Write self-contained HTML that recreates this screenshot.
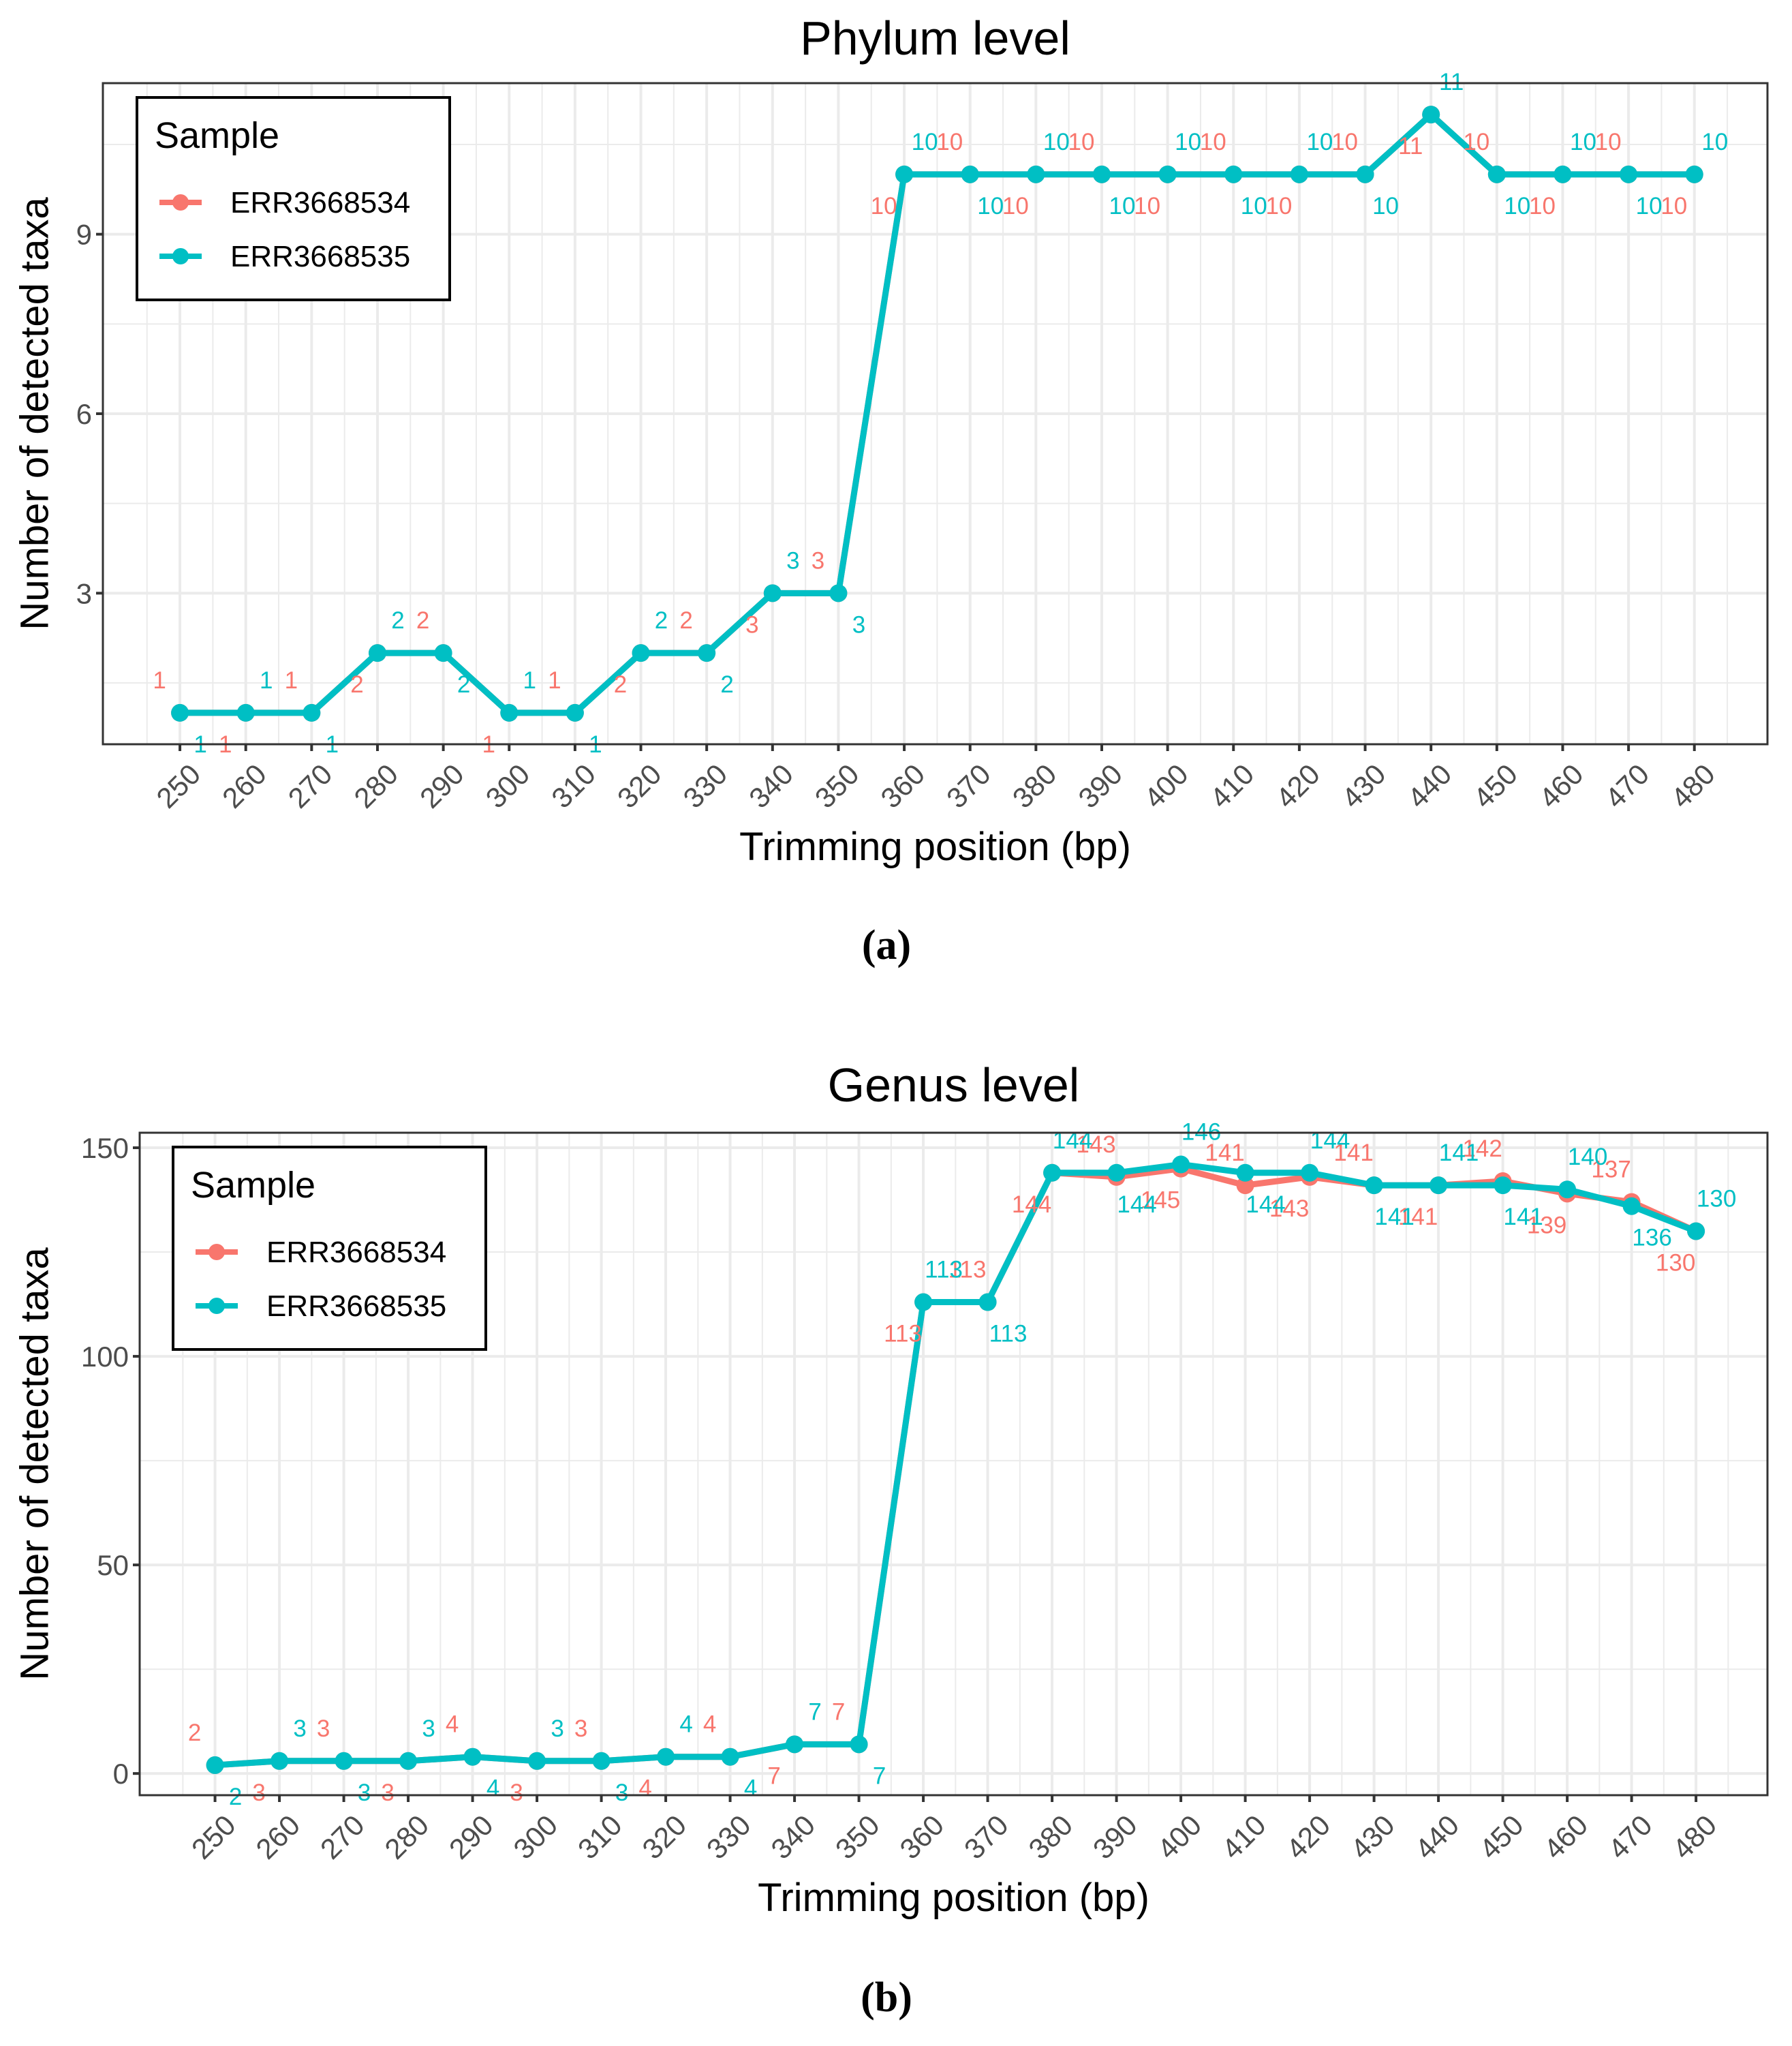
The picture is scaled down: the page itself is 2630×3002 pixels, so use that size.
<!DOCTYPE html>
<html><head><meta charset="utf-8"><style>
html,body{margin:0;padding:0;background:#fff;}
svg{display:block;font-family:"Liberation Sans",sans-serif;}
</style></head><body>
<svg id="chart" width="2630" height="3002" viewBox="0 0 2630 3002" xmlns="http://www.w3.org/2000/svg"></svg>
<script>
const positions = [250,260,270,280,290,300,310,320,330,340,350,360,370,380,390,400,410,420,430,440,450,460,470,480];
const phylumErr534 = [1,1,1,2,2,1,1,2,2,3,3,10,10,10,10,10,10,10,10,11,10,10,10,10];
const phylumErr535 = [1,1,1,2,2,1,1,2,2,3,3,10,10,10,10,10,10,10,10,11,10,10,10,10];
const genusErr534 = [2,3,3,3,4,3,3,4,4,7,7,113,113,144,143,145,141,143,141,141,142,139,137,130];
const genusErr535 = [2,3,3,3,4,3,3,4,4,7,7,113,113,144,144,146,144,144,141,141,141,140,136,130];
const phylumYTicks = [3,6,9];
const genusYTicks = [0,50,100,150];
const seriesNames = ["ERR3668534","ERR3668535"];
const RED="#F8766D", CYAN="#00BFC4";
const svg=document.getElementById('chart');
const NS="http://www.w3.org/2000/svg";
function mk(tag,attrs,parent,text){const e=document.createElementNS(NS,tag);for(const k in attrs)e.setAttribute(k,attrs[k]);if(text!==undefined)e.textContent=text;(parent||svg).appendChild(e);return e;}

function panel(cfg){
  const g=mk('g',{});
  
  
  const {L,R,T,B,xmin,xmax,ymin,ymax}=cfg;
  const sx=v=>L+(v-xmin)/(xmax-xmin)*(R-L);
  const sy=v=>B-(v-ymin)/(ymax-ymin)*(B-T);
  for(let i=0;i<positions.length+1;i++){const v=positions[0]-5+i*10;if(v>xmin&&v<xmax){const l=mk('line',{x1:sx(v),x2:sx(v),y1:T,y2:B,stroke:'#ebebeb','stroke-width':2},g);}}
  cfg.yMinor.forEach(v=>{const l=mk('line',{x1:L,x2:R,y1:sy(v),y2:sy(v),stroke:'#ebebeb','stroke-width':2},g);});
  positions.forEach(v=>{const l=mk('line',{x1:sx(v),x2:sx(v),y1:T,y2:B,stroke:'#ebebeb','stroke-width':4},g);});
  cfg.yTicks.forEach(v=>{const l=mk('line',{x1:L,x2:R,y1:sy(v),y2:sy(v),stroke:'#ebebeb','stroke-width':4},g);
    const t=mk('line',{x1:L-10,x2:L,y1:sy(v),y2:sy(v),stroke:'#333','stroke-width':4},g);
    const tl=mk('text',{x:L-16,y:sy(v)+15,'text-anchor':'end','font-size':42,fill:'#4d4d4d'},g,String(v));});
  positions.forEach(v=>{const t=mk('line',{x1:sx(v),x2:sx(v),y1:B,y2:B+10,stroke:'#333','stroke-width':4},g);
    const x=sx(v)+12,y=B+26;const tl=mk('text',{x:x,y:y,'text-anchor':'end','font-size':42,fill:'#4d4d4d',transform:`rotate(-45 ${x} ${y})`,dy:'0.7em'},g,String(v));});
  const series=[[cfg.s1,RED],[cfg.s2,CYAN]];
  series.forEach(([vals,col],si)=>{
    const pts=vals.map((v,i)=>sx(positions[i])+','+sy(v)).join(' ');
    const pl=mk('polyline',{points:pts,fill:'none',stroke:col,'stroke-width':9,'stroke-linejoin':'round'},g);
    
    vals.forEach((v,i)=>{const c=mk('circle',{cx:sx(positions[i]),cy:sy(v),r:13,fill:col},g);});
  });
  series.forEach(([vals,col],si)=>{
    vals.forEach((v,i)=>{
      const up=(i%2===0)?(si===0):(si===1);
      const dx=si===0?-30:30, dy=up?-36:58;
      const t=mk('text',{x:sx(positions[i])+dx,y:sy(v)+dy,'text-anchor':'middle','font-size':35,fill:col},g,String(v));
      
    });
  });
  const fr=mk('rect',{x:L,y:T,width:R-L,height:B-T,fill:'none',stroke:'#333','stroke-width':3},g);
  const tt=mk('text',{x:(L+R)/2,y:cfg.titleY,'text-anchor':'middle','font-size':70,fill:'#000'},g,cfg.title);
  const xt=mk('text',{x:(L+R)/2,y:B+170,'text-anchor':'middle','font-size':58,fill:'#000'},g,'Trimming position (bp)');
  const yx=50,yy=(T+B)/2;const yt=mk('text',{x:yx,y:yy,'text-anchor':'middle','font-size':58,fill:'#000',transform:`rotate(-90 ${yx} ${yy})`,dy:'0.35em'},g,'Number of detected taxa');
  const lg=mk('g',{},g);
  const [lx,ly]=cfg.legend;
  mk('rect',{x:lx,y:ly,width:459,height:297,fill:'#fff',stroke:'#000','stroke-width':4},lg);
  const lt=mk('text',{x:lx+26,y:ly+74,'font-size':54,fill:'#000'},lg,'Sample');
  [RED,CYAN].forEach((col,i)=>{const yy2=ly+154+i*79;
    const e=mk('g',{},lg);
    mk('line',{x1:lx+33,x2:lx+95,y1:yy2,y2:yy2,stroke:col,'stroke-width':8},e);
    mk('circle',{cx:lx+64,cy:yy2,r:12,fill:col},e);
    mk('text',{x:lx+137,y:yy2+15,'font-size':44,fill:'#000'},e,seriesNames[i]);});
  const cap=mk('text',{x:1301,y:cfg.capY,'text-anchor':'middle','font-size':62,'font-weight':'bold',fill:'#000','font-family':'Liberation Serif, serif'},g,cfg.cap);
}
panel({name:'phylum-panel',title:'Phylum level',titleY:80,L:151,R:2594,T:122,B:1092,xmin:238.3,xmax:491.1,ymin:0.475,ymax:11.525,yTicks:phylumYTicks,yMinor:[1.5,4.5,7.5,10.5],s1:phylumErr534,s2:phylumErr535,legend:[201,143],cap:'(a)',capY:1407});
panel({name:'genus-panel',title:'Genus level',titleY:1616,L:205,R:2594,T:1662,B:2634,xmin:238.3,xmax:491.1,ymin:-5.2,ymax:153.6,yTicks:genusYTicks,yMinor:[25,75,125],s1:genusErr534,s2:genusErr535,legend:[254,1683],cap:'(b)',capY:2951});
</script>
</body></html>
